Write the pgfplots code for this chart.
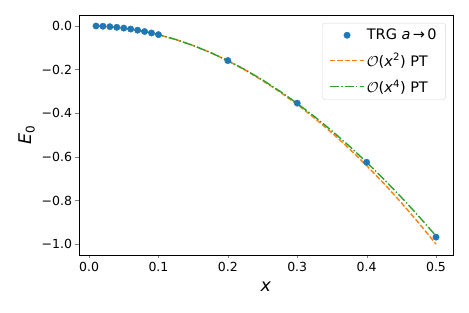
\documentclass[border=0pt]{standalone}
\usepackage{fontspec}
\setmainfont{DejaVu Sans}
\usepackage{pgfplots}
\pgfplotsset{compat=1.18}
\definecolor{tabblue}{HTML}{1F77B4}
\definecolor{taborange}{HTML}{FF7F0E}
\definecolor{tabgreen}{HTML}{2CA02C}
\begin{document}
\begin{tikzpicture}
\useasboundingbox (-79pt,-58pt) rectangle (390pt,255pt);
\begin{axis}[
  scale only axis, width=374pt, height=240pt,
  xmin=-0.0145, xmax=0.5245, ymin=-1.05, ymax=0.05,
  tick align=outside, tick pos=left, major tick length=3.5pt,
  xtick={0,0.1,0.2,0.3,0.4,0.5},
  xticklabels={0.0,0.1,0.2,0.3,0.4,0.5},
  ytick={-1,-0.8,-0.6,-0.4,-0.2,0},
  yticklabels={−1.0,−0.8,−0.6,−0.4,−0.2,0.0},
  ticklabel style={font=\fontsize{12.5}{14}\selectfont},
  xlabel={\textit{x}}, ylabel={\textit{E}\raisebox{-0.35ex}{\fontsize{12}{12}\selectfont 0}},
  label style={font=\fontsize{17.5}{20}\selectfont},
  xlabel style={yshift=-4pt},
  ylabel style={yshift=0pt},
  axis line style={line width=0.8pt},
  legend style={at={(0.981,0.967)}, anchor=north east, draw=black!15, rounded corners=3pt,
    fill=white, font=\fontsize{14.5}{16}\selectfont,
    inner xsep=7pt, inner ysep=4pt, row sep=8pt,
    nodes={inner sep=2pt},
    /tikz/every even column/.append style={column sep=7pt}},
  legend cell align=left,
  legend image code/.code={\draw[mark repeat=2,mark phase=2,#1] plot coordinates {(0cm,0cm) (0.6cm,0cm) (1.2cm,0cm)};},
]
\addplot[only marks, mark=*, mark size=3.2pt, color=tabblue, mark options={draw=tabblue, fill=tabblue}] coordinates {
(0.01,-0.0004) (0.02,-0.0016) (0.03,-0.0036) (0.04,-0.0064) (0.05,-0.0100)
(0.06,-0.0144) (0.07,-0.0196) (0.08,-0.0256) (0.09,-0.0324) (0.10,-0.0400)
(0.2,-0.159) (0.3,-0.354) (0.4,-0.625) (0.5,-0.968)};
\addlegendentry{TRG \textit{a}\,→\,0}
\addplot[color=taborange, line width=1.4pt, dash pattern=on 5.2pt off 2.2pt] coordinates {
(0.01,-0.0004) (0.02,-0.0016) (0.03,-0.0036) (0.04,-0.0064) (0.05,-0.0100)
(0.06,-0.0144) (0.07,-0.0196) (0.08,-0.0256) (0.09,-0.0324) (0.10,-0.0400)
(0.125,-0.0625) (0.15,-0.09) (0.175,-0.1225) (0.2,-0.16) (0.225,-0.2025)
(0.25,-0.25) (0.275,-0.3025) (0.3,-0.36) (0.325,-0.4225) (0.35,-0.49)
(0.375,-0.5625) (0.4,-0.64) (0.425,-0.7225) (0.45,-0.81) (0.475,-0.9025) (0.5,-1.0)};
\addlegendentry{$\mathcal{O}$(\textit{x}\textsuperscript{2}) PT}
\addplot[color=tabgreen, line width=1.4pt, dash pattern=on 9pt off 2.2pt on 1.4pt off 2.2pt] coordinates {
(0.01,-0.0004) (0.02,-0.0016) (0.03,-0.0036) (0.04,-0.0064) (0.05,-0.0100)
(0.06,-0.0144) (0.07,-0.0196) (0.08,-0.0256) (0.09,-0.0324) (0.10,-0.03994)
(0.125,-0.06235) (0.15,-0.0897) (0.175,-0.12194) (0.2,-0.15904) (0.225,-0.20096)
(0.25,-0.24766) (0.275,-0.29907) (0.3,-0.35514) (0.325,-0.4158) (0.35,-0.481)
(0.375,-0.55063) (0.4,-0.62464) (0.425,-0.70292) (0.45,-0.7854) (0.475,-0.87196) (0.5,-0.9625)};
\addlegendentry{$\mathcal{O}$(\textit{x}\textsuperscript{4}) PT}
\end{axis}
\end{tikzpicture}
\end{document}
